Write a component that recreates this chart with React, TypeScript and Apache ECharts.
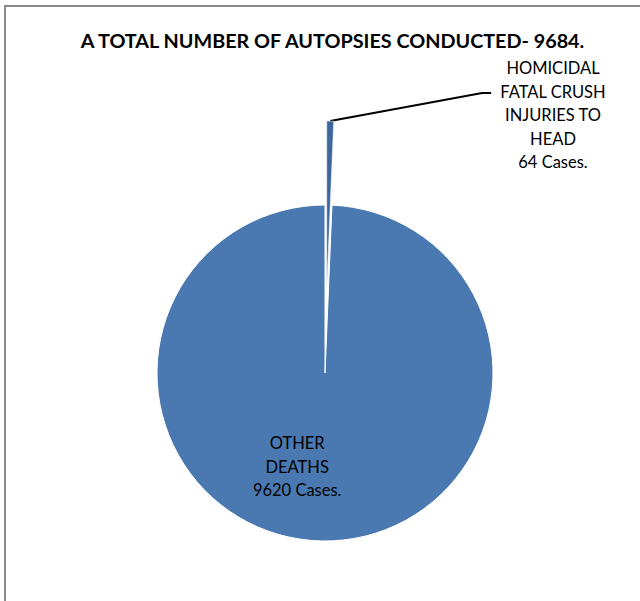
import React, { useEffect, useRef } from "react";
import * as echarts from "echarts";

const titleText = "A TOTAL NUMBER OF AUTOPSIES CONDUCTED- 9684.";
const categories = ["HOMICIDAL FATAL CRUSH INJURIES TO HEAD", "OTHER DEATHS"];
const labelNames = ["HOMICIDAL\nFATAL CRUSH\nINJURIES TO\nHEAD", "OTHER\nDEATHS"];
const cases = [64, 9620];
const sliceColors = ["#3e689c", "#4a79b1"];

const CX = 325;
const CY = 373;
const R = 168;
const EXPLODE = 84;

export default function App() {
  const ref = useRef<HTMLDivElement>(null);
  useEffect(() => {
    if (!ref.current) return;
    const chart = echarts.init(ref.current, null, { renderer: "svg" });
    const total = cases.reduce((a, b) => a + b, 0);
    // mid angle of the first (exploded) slice, clockwise from 12 o'clock
    const mid = (cases[0] / total) * Math.PI;
    const explodedCenter = [CX + EXPLODE * Math.sin(mid), CY - EXPLODE * Math.cos(mid)];
    const hidden = { color: "rgba(0,0,0,0)", borderWidth: 0 };
    const labelBase = {
      fontFamily: "Lato",
      fontSize: 16.5,
      lineHeight: 23.5,
      color: "#000",
    };
    chart.setOption({
      animation: false,
      backgroundColor: "#ffffff",
      title: {
        text: titleText,
        left: 327.5,
        top: 25,
        textAlign: "center",
        textStyle: { fontFamily: "Lato", fontWeight: "bold", fontSize: 19.8, color: "#000" },
      },
      graphic: [
        {
          type: "rect",
          shape: { x: 5, y: 6, width: 700, height: 700 },
          style: { fill: "none", stroke: "#8a8a8a", lineWidth: 2 },
          silent: true,
        },
      ],
      series: [
        {
          type: "pie",
          center: [CX, CY],
          radius: R,
          startAngle: 90,
          clockwise: true,
          avoidLabelOverlap: false,
          silent: true,
          itemStyle: { borderColor: "#ffffff", borderWidth: 1 },
          label: {
            ...labelBase,
            position: "inside",
            formatter: (p: any) => `${labelNames[p.dataIndex]}\n${p.value} Cases.`,
          },
          labelLine: { show: false },
          labelLayout: () => ({ dx: -26, dy: 7 }),
          data: categories.map((name, i) => ({
            name,
            value: cases[i],
            itemStyle: i === 0 ? hidden : { color: sliceColors[i] },
            label: { show: i !== 0 },
          })),
        },
        {
          type: "pie",
          center: explodedCenter,
          radius: R,
          startAngle: 90,
          clockwise: true,
          avoidLabelOverlap: false,
          silent: true,
          itemStyle: { borderColor: "#ffffff", borderWidth: 0.5 },
          label: {
            ...labelBase,
            position: "outside",
            padding: [0, 9, 0, 9],
            backgroundColor: "rgba(0,0,0,0)",
            formatter: (p: any) => `{pad| }\n${labelNames[p.dataIndex]}\n${p.value} Cases.`,
            rich: { pad: { lineHeight: 44, fontSize: 10 } },
          },
          labelLine: { show: true, lineStyle: { color: "#000", width: 2 }, length2: 9 },
          labelLayout: () => ({ x: 553, y: 93, align: "center", verticalAlign: "middle" }),
          data: categories.map((name, i) => ({
            name,
            value: cases[i],
            itemStyle: i === 0 ? { color: sliceColors[i] } : hidden,
            label: { show: i === 0 },
            labelLine: { show: i === 0 },
          })),
        },
      ],
    });
    return () => chart.dispose();
  }, []);
  return (
    <div
      ref={ref}
      style={{ position: "fixed", left: 0, top: 0, width: 640, height: 601 }}
    />
  );
}
